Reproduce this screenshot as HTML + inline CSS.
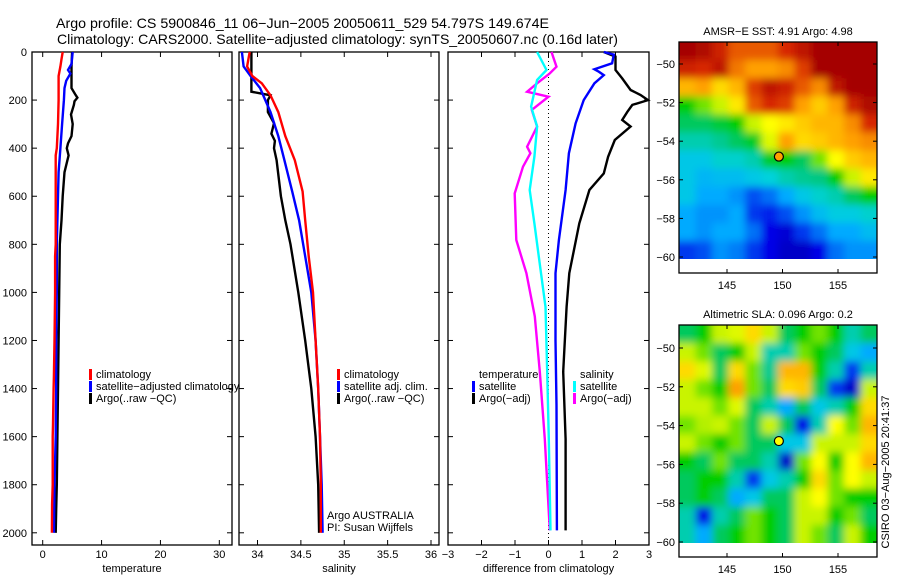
<!DOCTYPE html>
<html><head><meta charset="utf-8"><style>
html,body{margin:0;padding:0;background:#fff;}
svg text{font-family:"Liberation Sans",sans-serif;fill:#000;}
</style></head><body>
<svg id="fig" xmlns="http://www.w3.org/2000/svg" width="900" height="580" viewBox="0 0 900 580">
<rect width="900" height="580" fill="#fff"/>
<text x="56" y="28" font-size="14" textLength="493" lengthAdjust="spacingAndGlyphs">Argo profile: CS 5900846_11 06−Jun−2005 20050611_529 54.797S 149.674E</text>
<text x="57" y="44" font-size="14" textLength="561" lengthAdjust="spacingAndGlyphs">Climatology: CARS2000. Satellite−adjusted climatology: synTS_20050607.nc (0.16d later)</text>
<g id="panels"></g>
<g id="maps"></g>
<text transform="translate(889,472) rotate(-90)" font-size="11" text-anchor="middle">CSIRO 03−Aug−2005 20:41:37</text>
</svg>
<script>
// ---------- Data ----------
const depthTicks = [0,200,400,600,800,1000,1200,1400,1600,1800,2000];
const tempTicks = [0,10,20,30];
const salTicks = [34,34.5,35,35.5,36];
const salTickLabels = ["34","34.5","35","35.5","36"];
const diffTicks = [-3,-2,-1,0,1,2,3];

// Temperature panel
const tClimDepth = [0,30,60,100,200,300,400,430,600,800,850,1000,1200,1350,1400,1550,1600,1800,1880,2000];
const tClimVal   = [3.4,3.2,3.0,2.7,2.7,2.6,2.4,2.2,2.2,2.2,2.1,2.1,2.0,1.9,1.85,1.75,1.7,1.7,1.6,1.56];
const tSatDepth  = [0,50,75,90,120,150,200,300,400,500,600,800,1000,1200,1400,1600,1800,2000];
const tSatVal    = [5.1,4.9,4.3,4.7,4.0,3.7,3.6,3.3,3.0,2.7,2.6,2.4,2.4,2.3,2.3,2.2,2.0,1.9];
const tArgoDepth = [0,60,150,175,190,205,220,260,300,350,380,400,430,500,600,700,800,1000,1200,1400,1600,1800,1900,2000];
const tArgoVal   = [5.0,4.9,4.9,5.5,5.9,5.4,5.3,4.8,5.1,4.9,4.3,4.1,4.4,3.7,3.4,3.2,2.9,2.8,2.7,2.6,2.5,2.4,2.3,2.2];

// Salinity panel
const sClimDepth = [0,60,100,130,180,250,350,450,580,700,850,1000,1200,1400,1600,1800,2000];
const sClimVal   = [33.91,33.88,33.94,34.05,34.15,34.24,34.32,34.43,34.52,34.55,34.59,34.64,34.67,34.70,34.72,34.73,34.73];
const sSatDepth  = [0,60,100,150,250,350,450,580,700,850,1000,1200,1400,1600,1800,2000];
const sSatVal    = [33.82,33.84,33.92,34.03,34.15,34.24,34.31,34.40,34.48,34.55,34.62,34.67,34.70,34.72,34.74,34.75];
const sArgoDepth = [0,165,180,200,250,296,340,370,400,450,600,700,800,1000,1200,1400,1600,1800,2000];
const sArgoVal   = [33.93,33.93,34.15,34.12,34.12,34.19,34.16,34.20,34.19,34.22,34.27,34.32,34.38,34.47,34.55,34.62,34.67,34.70,34.71];

// Difference panel
const dTSatDepth = [0,11,47,72,82,96,130,200,297,421,574,782,920,1200,1470,1990];
const dTSatVal   = [1.65,1.95,1.9,1.37,1.5,1.65,1.37,1.05,0.81,0.61,0.51,0.31,0.21,0.21,0.24,0.25];
const dTArgoDepth= [0,19,75,110,158,179,200,220,250,283,310,366,436,505,574,713,920,1060,1330,1610,1990];
const dTArgoVal  = [1.65,2.0,2.0,2.2,2.45,2.75,2.97,2.5,2.35,2.2,2.45,1.98,1.78,1.65,1.22,0.92,0.62,0.54,0.44,0.51,0.51];
const dSSatDepth = [0,75,116,227,310,435,574,713,851,1060,1330,1610,1990];
const dSSatVal   = [-0.34,-0.06,-0.34,-0.52,-0.34,-0.42,-0.56,-0.42,-0.29,-0.09,-0.04,0.01,0.06];
const dSArgoDepth= [0,61,89,130,165,186,241,310,394,421,477,588,782,920,1100,1330,1610,1990];
const dSArgoVal  = [0.09,0.24,0.04,-0.34,-0.64,0.0,-0.5,-0.34,-0.64,-0.54,-0.76,-1.01,-0.96,-0.66,-0.41,-0.26,-0.11,0.04];

// Maps
const mapLatTicks = [-50,-52,-54,-56,-58,-60];
const mapLonTicks = [145,150,155];
const sstGrid = [
[1.0,0.98,0.92,0.85,0.85,0.85,0.9,0.95,1,1,1,1],
[0.92,0.9,0.95,0.82,0.78,0.78,0.8,0.88,1,1,1,1],
[0.75,0.78,0.7,0.75,0.88,0.95,0.92,0.85,0.8,0.95,1,1],
[0.5,0.55,0.6,0.68,0.85,0.9,0.88,0.78,0.72,0.78,0.92,0.98],
[0.45,0.45,0.47,0.5,0.6,0.65,0.68,0.72,0.75,0.75,0.8,0.9],
[0.4,0.4,0.42,0.45,0.48,0.62,0.78,0.7,0.72,0.75,0.78,0.8],
[0.35,0.35,0.38,0.38,0.4,0.48,0.5,0.45,0.55,0.65,0.72,0.75],
[0.35,0.32,0.33,0.33,0.35,0.37,0.4,0.42,0.43,0.5,0.6,0.68],
[0.35,0.3,0.3,0.28,0.22,0.25,0.3,0.35,0.38,0.4,0.45,0.5],
[0.3,0.28,0.28,0.3,0.2,0.18,0.22,0.28,0.33,0.36,0.36,0.38],
[0.3,0.28,0.3,0.3,0.25,0.15,0.12,0.2,0.25,0.3,0.3,0.33],
[0.2,0.22,0.28,0.26,0.2,0.15,0.1,0.1,0.15,0.25,0.28,0.28]];
const slaGrid = [
[0.45,0.5,0.6,0.62,0.7,0.6,0.45,0.5,0.55,0.5,0.4,0.45],
[0.6,0.55,0.45,0.5,0.6,0.4,0.4,0.55,0.5,0.45,0.35,0.3],
[0.7,0.62,0.45,0.7,0.55,0.42,0.75,0.75,0.5,0.4,0.2,0.4],
[0.6,0.55,0.5,0.78,0.55,0.45,0.7,0.72,0.45,0.2,0.1,0.6],
[0.6,0.6,0.55,0.62,0.45,0.4,0.3,0.45,0.35,0.4,0.5,0.7],
[0.55,0.58,0.6,0.55,0.45,0.6,0.45,0.15,0.4,0.65,0.55,0.75],
[0.6,0.55,0.5,0.55,0.45,0.45,0.35,0.35,0.6,0.6,0.6,0.7],
[0.5,0.45,0.55,0.45,0.45,0.4,0.1,0.55,0.65,0.5,0.65,0.75],
[0.45,0.5,0.5,0.4,0.2,0.35,0.4,0.5,0.7,0.55,0.65,0.6],
[0.45,0.5,0.45,0.3,0.35,0.45,0.45,0.6,0.65,0.55,0.5,0.5],
[0.4,0.15,0.4,0.45,0.55,0.5,0.45,0.6,0.6,0.5,0.55,0.45],
[0.4,0.3,0.45,0.5,0.55,0.5,0.45,0.6,0.55,0.45,0.6,0.5]];
const argoLon = [149.674];
const argoLat = [-54.797];

// ---------- Drawing ----------
const NS = "http://www.w3.org/2000/svg";
function mk(tag, attrs, parent){
  const e = document.createElementNS(NS, tag);
  for (const k in attrs) e.setAttribute(k, attrs[k]);
  parent.appendChild(e);
  return e;
}
const TOP = 52, BOT = 545;
function yDepth(d){ return 52 + d * 0.2404; }

const panels = document.getElementById('panels');
function panel(name, x0, x1, xScale, ticks, tickLabels, xlabel, showY){
  const g = mk('g', {}, panels);
  
  
  const fr = mk('rect', {x:x0, y:TOP, width:x1-x0, height:BOT-TOP, fill:'none', stroke:'#000', 'stroke-width':1.3}, g);
  
  
  depthTicks.forEach(d => {
    const y = yDepth(d);
    mk('line', {x1:x0, x2:x0+5, y1:y, y2:y, stroke:'#000'}, g);
    mk('line', {x1:x1-5, x2:x1, y1:y, y2:y, stroke:'#000'}, g);
    if (showY) {
      const t = mk('text', {x:x0-5, y:y+4, 'font-size':11, 'text-anchor':'end'}, g);
      t.textContent = String(d);
      
      
    }
  });
  ticks.forEach((v,i) => {
    const x = xScale(v);
    mk('line', {x1:x, x2:x, y1:TOP, y2:TOP+5, stroke:'#000'}, g);
    mk('line', {x1:x, x2:x, y1:BOT-5, y2:BOT, stroke:'#000'}, g);
    const t = mk('text', {x:x, y:558, 'font-size':11, 'text-anchor':'middle'}, g);
    t.textContent = tickLabels[i].replace('-', '−');
    
    
  });
  const xl = mk('text', {x:(x0+x1)/2, y:572, 'font-size':11, 'text-anchor':'middle'}, g);
  xl.textContent = xlabel;
  
  
  return g;
}
function series(g, name, depths, vals, xScale, color){
  const pts = depths.map((d,i) => xScale(vals[i]).toFixed(1) + ',' + yDepth(d).toFixed(1)).join(' ');
  const p = mk('polyline', {points:pts, fill:'none', stroke:color, 'stroke-width':2.4, 'stroke-linejoin':'miter'}, g);
  
  
}
function legend(g, x, y, items, name){
  const lg = mk('g', {}, g);
  
  
  items.forEach((it, i) => {
    const yy = y + i*12;
    if (it[1]) mk('rect', {x:x, y:yy-8, width:3, height:11, fill:it[1]}, lg);
    const t = mk('text', {x:x+7, y:yy+1, 'font-size':11}, lg);
    t.textContent = it[0];
    
    
  });
}

const xT = v => 42.7 + v * 5.887;
const xS = v => 257.5 + (v - 34) * 86.75;
const xD = v => 548.5 + v * 33.5;

const g1 = panel('temperature-panel', 32, 232, xT, tempTicks, tempTicks.map(String), 'temperature', true);
series(g1, 'temp-argo-line', tArgoDepth, tArgoVal, xT, '#000');
series(g1, 'temp-satellite-line', tSatDepth, tSatVal, xT, '#0000ff');
series(g1, 'temp-climatology-line', tClimDepth, tClimVal, xT, '#ff0000');
legend(g1, 89, 377, [['climatology','#ff0000'],['satellite−adjusted climatology','#0000ff'],['Argo(..raw −QC)','#000']], 'temperature-legend');

const g2 = panel('salinity-panel', 239, 439, xS, salTicks, salTickLabels, 'salinity', false);
series(g2, 'sal-argo-line', sArgoDepth, sArgoVal, xS, '#000');
series(g2, 'sal-satellite-line', sSatDepth, sSatVal, xS, '#0000ff');
series(g2, 'sal-climatology-line', sClimDepth, sClimVal, xS, '#ff0000');
legend(g2, 337, 377, [['climatology','#ff0000'],['satellite adj. clim.','#0000ff'],['Argo(..raw −QC)','#000']], 'salinity-legend');
legend(g2, 320, 518, [['Argo AUSTRALIA',null],['PI: Susan Wijffels',null]], 'float-credit');

const g3 = panel('difference-panel', 448, 649, xD, diffTicks, diffTicks.map(String), 'difference from climatology', false);
mk('line', {x1:xD(0), x2:xD(0), y1:TOP+5, y2:BOT, stroke:'#000', 'stroke-dasharray':'1,3'}, g3);
series(g3, 'diff-temp-argo-line', dTArgoDepth, dTArgoVal, xD, '#000');
series(g3, 'diff-temp-satellite-line', dTSatDepth, dTSatVal, xD, '#0000ff');
series(g3, 'diff-sal-argo-line', dSArgoDepth, dSArgoVal, xD, '#ff00ff');
series(g3, 'diff-sal-satellite-line', dSSatDepth, dSSatVal, xD, '#00ffff');
legend(g3, 472, 377, [['temperature',null],['satellite','#0000ff'],['Argo(−adj)','#000']], 'diff-temp-legend');
legend(g3, 573, 377, [['salinity',null],['satellite','#00ffff'],['Argo(−adj)','#ff00ff']], 'diff-sal-legend');

// colormap (custom jet-like with saturated greens)
const cmStops = [0,0.15,0.3,0.37,0.43,0.5,0.58,0.65,0.78,0.9,1.0];
const cmR = [0,0,0,0,0,0,180,255,255,215,165];
const cmG = [0,0,170,210,200,205,240,255,160,40,0];
const cmB = [140,230,255,220,130,0,0,0,0,0,0];
function cmap(v){
  v = Math.max(0, Math.min(1, v));
  let i = 0;
  while (i < cmStops.length-2 && v > cmStops[i+1]) i++;
  const t = (v - cmStops[i]) / (cmStops[i+1] - cmStops[i]);
  const f = a => Math.round(a[i] + (a[i+1]-a[i]) * t);
  return 'rgb(' + f(cmR) + ',' + f(cmG) + ',' + f(cmB) + ')';
}
const maps = document.getElementById('maps');
const defs = mk('defs', {}, maps);
const flt = mk('filter', {id:'smooth', filterUnits:'userSpaceOnUse', x:600, y:0, width:300, height:580}, defs);
mk('feGaussianBlur', {stdDeviation:4}, flt);

function map(name, id, frameTop, frameBot, dataBot, latToY, grid, title, marker){
  const x0 = 679, x1 = 877;
  const lonToX = lon => 727 + (lon - 145) * 11.1;
  const g = mk('g', {}, maps);
  
  
  const cp = mk('clipPath', {id:'clip'+id}, defs);
  mk('rect', {x:x0, y:frameTop, width:x1-x0, height:dataBot-frameTop}, cp);
  const outer = mk('g', {'clip-path':'url(#clip'+id+')'}, g);
  const inner = mk('g', {filter:'url(#smooth)'}, outer);
  const rows = grid.length, cols = grid[0].length;
  const cw = (x1-x0)/cols, ch = (dataBot-frameTop)/rows;
  grid.forEach((row, r) => row.forEach((v, c) => {
    let x = x0 + c*cw, y = frameTop + r*ch, w = cw + 0.5, h = ch + 0.5;
    if (c === 0) { x -= 15; w += 15; }
    if (c === cols-1) { w += 15; }
    if (r === 0) { y -= 15; h += 15; }
    if (r === rows-1) { h += 15; }
    const cell = mk('rect', {x:x, y:y, width:w, height:h, fill:cmap(v)}, inner);
    
    
  }));
  const fr = mk('rect', {x:x0, y:frameTop, width:x1-x0, height:frameBot-frameTop, fill:'none', stroke:'#000', 'stroke-width':1.3}, g);
  
  
  mapLatTicks.forEach(lat => {
    const y = latToY(lat);
    mk('line', {x1:x0, x2:x0+4, y1:y, y2:y, stroke:'#000'}, g);
    mk('line', {x1:x1-4, x2:x1, y1:y, y2:y, stroke:'#000'}, g);
    const t = mk('text', {x:x0-4, y:y+4, 'font-size':11, 'text-anchor':'end'}, g);
    t.textContent = '−' + Math.abs(lat);
    
    
  });
  mapLonTicks.forEach(lon => {
    const x = lonToX(lon);
    mk('line', {x1:x, x2:x, y1:frameTop, y2:frameTop+4, stroke:'#000'}, g);
    mk('line', {x1:x, x2:x, y1:frameBot-4, y2:frameBot, stroke:'#000'}, g);
    const t = mk('text', {x:x, y:frameBot+16, 'font-size':11, 'text-anchor':'middle'}, g);
    t.textContent = String(lon);
    
    
  });
  const tt = mk('text', {x:778, y:frameTop-7, 'font-size':11, 'text-anchor':'middle'}, g);
  tt.textContent = title;
  
  
  const m = mk('circle', {cx:lonToX(argoLon[0]), cy:latToY(argoLat[0]), r:4.5, fill:marker, stroke:'#000', 'stroke-width':1.2}, g);
  
  
}
map('sst-map', 1, 42, 273, 259, lat => 64 + (-50 - lat) * 19.3, sstGrid, 'AMSR−E SST: 4.91 Argo: 4.98', '#ffa000');
map('sla-map', 2, 325, 557, 543, lat => 348 + (-50 - lat) * 19.4, slaGrid, 'Altimetric SLA: 0.096 Argo: 0.2', '#ffff00');
</script>
</body></html>
